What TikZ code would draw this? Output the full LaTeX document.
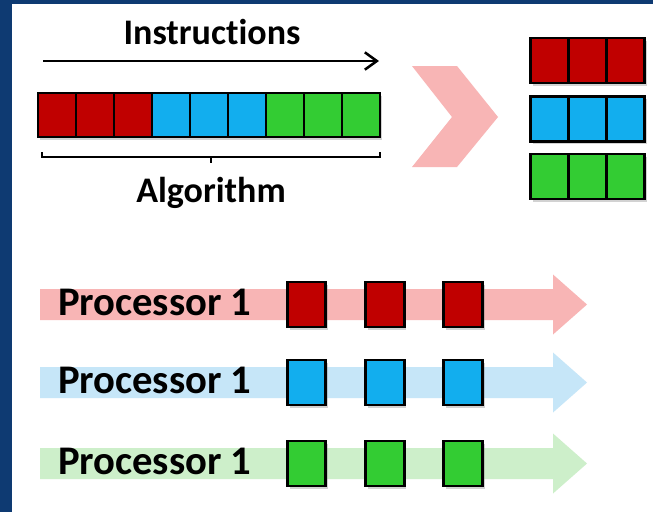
\documentclass[tikz,border=0pt]{standalone}
\usepackage{fontspec}
\setmainfont{Carlito}[Ligatures=NoCommon]
\usetikzlibrary{shadows,arrows.meta}
\definecolor{frameblue}{HTML}{0E3A72}
\definecolor{cellred}{HTML}{C00000}
\definecolor{cellblue}{HTML}{12AEEE}
\definecolor{cellgreen}{HTML}{33CC33}
\definecolor{lightred}{HTML}{F8B5B5}
\definecolor{lightblue}{HTML}{C6E6F8}
\definecolor{lightgreen}{HTML}{CDEFCA}

\begin{document}
\begin{tikzpicture}[x=0.75pt,y=-0.75pt,inner sep=0pt,outer sep=0pt,line width=1.7pt,
cell/.style={draw,rectangle,minimum width=28.5pt,minimum height=33pt,line width=2.2pt,drop shadow={shadow xshift=1.8pt,shadow yshift=-2.2pt,opacity=0.35}},
task/.style={cell,minimum width=29pt,minimum height=33.75pt},
caption/.style={font=\bfseries\fontsize{27}{30}\selectfont},
proclabel/.style={font=\bfseries\fontsize{30.5}{34}\selectfont,anchor=west},
>={Straight Barb[length=9pt,width=13pt]}]

\useasboundingbox (0,0) rectangle (653,512);
\fill[frameblue] (0,0) rectangle (653,512);
\fill[white] (12,4) rectangle (653,512);

% the algorithm as one row of instructions
\draw (212,32) node[caption] (instr) {Instructions};
\coordinate (instart) at (43,61);
\coordinate (inend) at (379,61);
\draw[->,line width=1.9pt] (instart) -- (inend);
\foreach \c [count=\i from 0] in {cellred,cellred,cellred,cellblue,cellblue,cellblue,cellgreen,cellgreen,cellgreen}
  \draw (57+38*\i,115) node[cell,fill=\c] (bar\i) {};
\draw (42,152) -- (42,157) -- (380,157) -- (380,152);
\draw (211,157) -- (211,163);
\draw (211,193) node[caption] (algo) {Algorithm};

% split into three parts
\fill[lightred] (412,66) -- (457,66) -- (498,117) -- (457,167) -- (412,167) -- (452,117) -- cycle;
\foreach \c/\y [count=\r] in {cellred/60.5,cellblue/119,cellgreen/176.5}
  \foreach \i in {0,1,2}
    \draw (549.2+38.3*\i,\y) node[cell,fill=\c,minimum height=33.75pt] (split\r\i) {};

% one processor for each part
\foreach \c/\lc/\y [count=\r] in {cellred/lightred/304.5,cellblue/lightblue/382.5,cellgreen/lightgreen/463.5} {
  \fill[\lc] (40,\y-15.5) -- (553,\y-15.5) -- (553,\y-30) -- (587,\y) -- (553,\y+30) -- (553,\y+15.5) -- (40,\y+15.5) -- cycle;
  \draw (58,\y-2.5) node[proclabel] (proc\r) {Processor 1};
  \foreach \i in {0,1,2}
    \draw (306.5+78.2*\i,\y) node[task,fill=\c] (task\r\i) {};
}
\end{tikzpicture}
\end{document}
